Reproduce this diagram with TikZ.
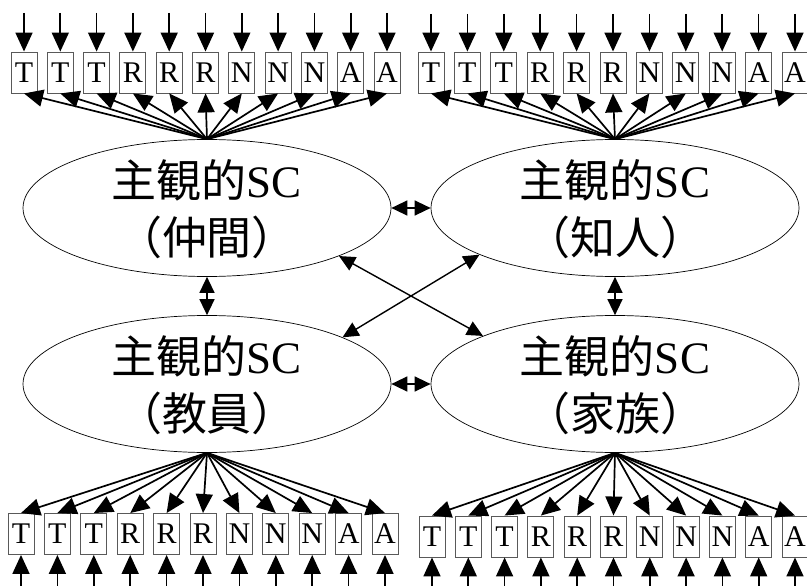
\documentclass[tikz,border=0pt]{standalone}
\usepackage{fontspec}
\setmainfont{Liberation Serif}
\newfontfamily\cjk{Noto Sans CJK JP}
\usetikzlibrary{arrows.meta,shapes.geometric}
\begin{document}
\begin{tikzpicture}[x=1pt,y=-1pt,
  arr/.style={-{Triangle[length=19pt,width=17pt]}, line width=1.7pt},
  darr/.style={{Triangle[length=16pt,width=15pt]}-{Triangle[length=16pt,width=15pt]}, line width=1.4pt},
  letterbox/.style={draw=black!65, line width=0.9pt, minimum width=26pt, minimum height=41pt, inner sep=0pt, font=\fontsize{30}{30}\selectfont},
  scshape/.style={ellipse, draw, line width=0.7pt, minimum width=368pt, minimum height=137pt, inner sep=0pt},
  sctext/.style={anchor=base, inner sep=0pt, font=\fontsize{45}{58}\selectfont}]
\useasboundingbox (0,0) rectangle (807,586);

\node[scshape] (TL) at (207,208) {};
\node[scshape] (TR) at (615,208) {};
\node[scshape] (BL) at (207,384) {};
\node[scshape] (BR) at (615,384) {};

\node[sctext] (TLa) at (207,197) {{\cjk 主観的}SC};
\node[sctext] (TLb) at (207,254) {{\cjk （仲間）}};
\node[sctext] (TRa) at (615,197) {{\cjk 主観的}SC};
\node[sctext] (TRb) at (615,254) {{\cjk （知人）}};
\node[sctext] (BLa) at (207,373) {{\cjk 主観的}SC};
\node[sctext] (BLb) at (207,430) {{\cjk （教員）}};
\node[sctext] (BRa) at (615,373) {{\cjk 主観的}SC};
\node[sctext] (BRb) at (615,430) {{\cjk （家族）}};

\draw[darr] (TL.east) -- (TR.west);
\draw[darr] (BL.east) -- (BR.west);
\draw[darr] (TL.south) -- (BL.north);
\draw[darr] (TR.south) -- (BR.north);
\draw[darr] (TL.-20.6) -- (BR.160.4);
\draw[darr] (TR.199.6) -- (BL.19.7);

\foreach \l [count=\i] in {T,T,T,R,R,R,N,N,N,A,A} {
  \pgfmathsetmacro\xa{24+(\i-1)*36.3}
  \pgfmathsetmacro\xb{431+(\i-1)*36.4}
  \pgfmathsetmacro\xc{21+(\i-1)*36.4}
  \pgfmathsetmacro\xd{432+(\i-1)*36.3}
  \node[letterbox] (ta\i) at (\xa,72.5) {\l};
  \node[letterbox] (tb\i) at (\xb,72.5) {\l};
  \node[letterbox] (ba\i) at (\xc,534) {\l};
  \node[letterbox] (bb\i) at (\xd,536.5) {\l};
  \coordinate (tain\i) at (\xa,13);
  \coordinate (tbin\i) at (\xb,14);
  \coordinate (bain\i) at (\xc,586);
  \coordinate (bbin\i) at (\xd,586);
  \draw[arr] (tain\i) -- (ta\i.north);
  \draw[arr] (tbin\i) -- (tb\i.north);
  \draw[arr] (bain\i) -- (ba\i.south);
  \draw[arr] (bbin\i) -- (bb\i.south);
  \draw[arr] (TL.north) -- (ta\i.south);
  \draw[arr] (TR.north) -- (tb\i.south);
  \draw[arr] (BL.south) -- (ba\i.north);
  \draw[arr] (BR.south) -- (bb\i.north);
}
\end{tikzpicture}
\end{document}
